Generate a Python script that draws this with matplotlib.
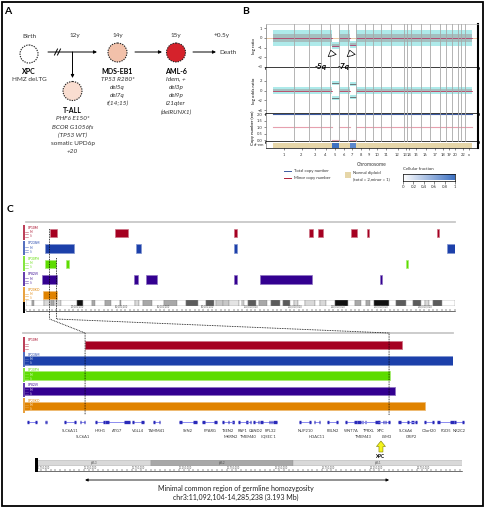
import numpy as np
import matplotlib
matplotlib.use('Agg')
import matplotlib.pyplot as plt
from matplotlib.patches import Rectangle, Circle, Polygon, FancyArrowPatch
from matplotlib.colors import LinearSegmentedColormap, to_rgb
from matplotlib.transforms import blended_transform_factory

plt.rcParams['font.family'] = ['Lato', 'DejaVu Sans']

# ======================= DATA =======================
# ---- Panel A (clinical timeline) ----
timeline_ages = ['Birth', '12y', '14y', '15y', '+0.5y']
xpc_title, xpc_lines = 'XPC', ['HMZ del.TG']
tall_title, tall_lines = 'T-ALL', ['PHF6 E150*', 'BCOR G1056fs', '(TP53 WT)', 'somatic UPD6p', '+20']
mds_title, mds_lines = 'MDS-EB1', ['TP53 R280*', 'del5q', 'del7q', 't(14;15)']
aml_title, aml_lines = 'AML-6', ['Idem, +', 'del3p', 'del9p', 'i21qter', '(delRUNX1)']

# ---- Panel B (copy-number profile) ----
chrom_names = [str(i) for i in range(1, 23)] + ['x']
chrom_width = [21, 15, 12, 9, 9, 9, 8, 9, 8, 8, 10, 13, 3, 4, 10, 9, 10, 6, 6, 6, 3, 4, 7]
del_chrom = ['5', '7']
del_from_frac = [0.2, 0.2]
del_logr = [-0.8, -0.7]
del_logor = [1.5, 1.3]
del_cf = [1.0, 0.85]
normal_logr = 0.0
normal_minor = 1.0
normal_total = 2.0
cf_ticks = [0, 0.2, 0.4, 0.6, 0.8, 1]

# ---- Panel C (runs of homozygosity on chr3, Mb) ----
samples = ['XP10M', 'XP23SM', 'XP30PH', 'XP82VI', 'XP20KO']
sample_colors = ['#a50021', '#1c40aa', '#5ddc00', '#330090', '#e08300']
roh_start = [[11.09, 41.5, 96.0, 130.6, 135.2, 150.0, 157.4, 190.1],
             [8.8, 50.8, 96.0, 194.3],
             [8.8, 18.9, 175.4],
             [7.4, 50.3, 55.4, 96.0, 108.4, 163.4],
             [8.3]]
roh_end = [[14.42, 47.1, 97.8, 132.9, 137.1, 153.2, 158.7, 191.0],
           [22.6, 53.1, 97.8, 198.0],
           [14.29, 20.3, 176.3],
           [14.35, 52.1, 60.9, 97.8, 132.0, 164.7],
           [14.66]]
min_region = (11.092104, 14.285238)
chr3_len = 198.02

band_name = ['p26.3', 'p26.2', 'p26.1', 'p25.3', 'p25.2', 'p25.1', 'p24.3', 'p24.2', 'p24.1', 'p23',
             'p22.3', 'p22.2', 'p22.1', 'p21.33', 'p21.32', 'p21.31', 'p21.2', 'p21.1', 'p14.3', 'p14.2',
             'p14.1', 'p13', 'p12.3', 'p12.2', 'p12.1', 'p11.2', 'p11.1', 'q11.1', 'q11.2', 'q12.1',
             'q12.2', 'q12.3', 'q13.11', 'q13.12', 'q13.13', 'q13.2', 'q13.31', 'q13.32', 'q13.33', 'q21.1',
             'q21.2', 'q21.3', 'q22.1', 'q22.2', 'q22.3', 'q23', 'q24', 'q25.1', 'q25.2', 'q25.31',
             'q25.32', 'q25.33', 'q26.1', 'q26.2', 'q26.31', 'q26.32', 'q26.33', 'q27.1', 'q27.2', 'q27.3',
             'q28', 'q29']
band_start = [0, 2.8, 4.0, 8.7, 11.8, 13.3, 16.4, 23.9, 26.4, 30.9,
              32.1, 36.5, 39.4, 43.7, 44.1, 44.2, 50.6, 52.3, 54.4, 58.6,
              63.7, 69.8, 74.2, 79.8, 83.5, 87.2, 87.9, 91.0, 93.9, 98.3,
              100.0, 100.9, 102.8, 106.2, 107.9, 111.3, 113.5, 117.3, 119.0, 121.9,
              123.8, 125.8, 129.2, 133.7, 135.7, 138.7, 142.8, 148.9, 152.1, 155.0,
              157.0, 159.0, 160.7, 167.6, 170.9, 175.7, 179.0, 182.7, 184.5, 186.0,
              187.9, 192.3]
band_stain = ['gneg', 'gpos50', 'gneg', 'gpos25', 'gpos50', 'gpos25', 'gneg', 'gpos100', 'gneg', 'gpos50',
              'gneg', 'gpos50', 'gneg', 'gpos50', 'gneg', 'gneg', 'gpos25', 'gneg', 'gpos50', 'gneg',
              'gpos50', 'gneg', 'gpos75', 'gneg', 'gpos75', 'gneg', 'acen', 'acen', 'gvar', 'gneg',
              'gpos25', 'gneg', 'gpos75', 'gneg', 'gpos50', 'gneg', 'gpos75', 'gneg', 'gpos75', 'gneg',
              'gpos25', 'gneg', 'gpos25', 'gneg', 'gpos25', 'gneg', 'gpos100', 'gneg', 'gpos50', 'gneg',
              'gpos50', 'gneg', 'gpos100', 'gneg', 'gpos75', 'gneg', 'gpos75', 'gneg', 'gpos25', 'gneg',
              'gpos75', 'gneg']
stain_color = {'gneg': '#ffffff', 'gpos25': '#d9d9d9', 'gpos50': '#a8a8a8', 'gpos75': '#5c5c5c',
               'gpos100': '#111111', 'acen': '#c8c8c8', 'gvar': '#e4e4e4'}

gene_names = ['', '', 'SLC6A11', 'SLC6A1', 'HRH1', 'ATG7', 'VGLL4', 'TAMM41', 'SYN2', 'PPARG',
              'TSEN2', 'MKRN2', 'RAF1', 'TMEM40', 'CAND2', 'IQSEC 1', 'RPL32', 'NUP210', 'HDAC11', 'FBLN2',
              'WNT7A', 'TMEM43', 'TPRXL', 'XPC', 'LSM3', 'SLC6A6', 'GRIP2', 'C3orf20', 'FGD5', 'NR2C2']
gene_start = [10.48, 10.67, 10.87, 11.04, 11.20, 11.30, 11.58, 11.81, 12.08, 12.32,
              12.53, 12.59, 12.70, 12.78, 12.86, 12.93, 13.02, 13.34, 13.50, 13.63,
              13.82, 14.00, 13.95, 14.17, 14.24, 14.38, 14.47, 14.65, 14.79, 14.97]
gene_end = [10.59, 10.69, 11.00, 11.09, 11.30, 11.56, 11.71, 11.88, 12.27, 12.48,
            12.66, 12.66, 12.80, 12.84, 12.92, 13.11, 13.06, 13.47, 13.56, 13.75,
            13.95, 14.04, 14.19, 14.23, 14.29, 14.55, 14.58, 14.76, 14.97, 15.07]
gene_row = [0, 0, 0, 1, 0, 0, 0, 0, 0, 0,
            0, 1, 0, 1, 0, 1, 0, 0, 1, 0,
            0, 1, 0, 0, 1, 0, 1, 0, 0, 0]
xpc_gene = 'XPC'

# ======================= FIGURE =======================
W, H = 486, 508
fig = plt.figure(figsize=(W / 100, H / 100), dpi=100)


def pxax(x0, y0, x1, y1):
    return fig.add_axes([x0 / W, 1 - y1 / H, (x1 - x0) / W, (y1 - y0) / H])


ov = fig.add_axes([0, 0, 1, 1])
ov.set_xlim(0, W)
ov.set_ylim(H, 0)
ov.axis('off')
ov.patch.set_alpha(0)
ov.set_zorder(10)


def to_px(ax, x, y):
    d = ax.transData.transform((x, y))
    return ov.transData.inverted().transform(d)


# outer frame
ov.add_patch(Rectangle((1.5, 1.5), 481, 504.5, fill=False, lw=1.3, ec='black'))

# ---------------- Panel A ----------------
ov.text(8, 12, 'A', fontsize=7.5, fontweight='bold', va='center', ha='center')
age_x = [29, 75, 117.5, 176, 222]
for ax_, lab in zip(age_x, timeline_ages):
    ov.text(ax_, 36, lab, fontsize=4.6, ha='center', va='center', color='#333333')

dot = (0, (1.2, 1.0))
circles = [(29, 54, 9, 'white'), (72.5, 91, 9.5, '#f9ddd0'),
           (117.5, 52.5, 9.5, '#f2c1aa'), (176, 52.5, 9.5, '#d5222b')]
for cx, cy, r, fc in circles:
    ov.add_patch(Circle((cx, cy), r, fc=fc, ec='#222222', lw=0.8, ls=dot))

arr = dict(arrowstyle='-|>', lw=0.7, color='black', mutation_scale=4.5, shrinkA=0, shrinkB=0)
ov.annotate('', xy=(97, 52), xytext=(48, 52), arrowprops=arr)
ov.annotate('', xy=(72.5, 78), xytext=(72.5, 52), arrowprops=arr)
ov.annotate('', xy=(162, 52), xytext=(135, 52), arrowprops=arr)
ov.annotate('', xy=(216, 52), xytext=(193, 52), arrowprops=arr)
ov.plot([54.5, 57.5], [55, 49], color='black', lw=0.7)
ov.plot([57.5, 60.5], [55, 49], color='black', lw=0.7)
ov.text(219, 52.5, 'Death', fontsize=4.6, ha='left', va='center', color='#333333')


def block(x, y, title, lines):
    ov.text(x, y, title, fontsize=5, fontweight='bold', ha='center', va='center')
    for k, ln in enumerate(lines):
        ov.text(x, y + 8.2 * (k + 1), ln, fontsize=4.6, ha='center', va='center',
                style='normal' if ln.startswith('HMZ') or ln.startswith('somatic') else 'italic',
                color='#333333')


block(29, 71, xpc_title, xpc_lines)
block(117.5, 71, mds_title, mds_lines)
block(176, 71, aml_title, aml_lines)
block(72.5, 110.5, tall_title, tall_lines)

# ---------------- Panel B ----------------
ov.text(246, 12, 'B', fontsize=7.5, fontweight='bold', va='center', ha='center')
starts = np.concatenate([[0], np.cumsum(chrom_width)[:-1]])
ends = np.cumsum(chrom_width)
centers = (starts + ends) / 2

segs = []  # (start, end, logr, logor, minor, cf, is_del)
for name, s, e in zip(chrom_names, starts, ends):
    if name in del_chrom:
        k = del_chrom.index(name)
        b = s + del_from_frac[k] * (e - s)
        segs.append((s, b, normal_logr, 0.0, normal_minor, 0.0, False))
        segs.append((b, e, del_logr[k], del_logor[k], 0.0, del_cf[k], True))
    else:
        segs.append((s, e, normal_logr, 0.0, normal_minor, 0.0, False))

XL = (-7, 205)
ax1 = pxax(266, 24, 478, 68.3)
ax2 = pxax(266, 68.3, 478, 113.7)
ax3 = pxax(266, 113.7, 478, 142)
ax4 = pxax(266, 142, 478, 148.5)
cyan = '#aeeaea'
gray = '#9c9c9c'
for ax in (ax1, ax2, ax3, ax4):
    ax.set_xlim(*XL)
    ax.tick_params(axis='y', labelsize=3, length=1.5, width=0.4, pad=1, colors='#333333')
    ax.set_xticks([])
    ax.spines['left'].set_linewidth(0.5)
    ax.spines['left'].set_color('#777777')
    ax.spines['top'].set_color('#bbbbbb')
    ax.spines['top'].set_linewidth(0.5)
    ax.spines['bottom'].set_linewidth(1.8)
    ax.spines['right'].set_linewidth(1.5)
ax2.spines['top'].set_visible(False)
ax3.spines['top'].set_visible(False)
ax4.spines['top'].set_visible(False)
ax4.spines['bottom'].set_linewidth(0.5)

# track 1: log ratio
for s, e, lr, lo, mi, cf, isd in segs:
    if isd:
        ax1.fill_between([s, e], lr - 0.4, lr + 0.4, color=cyan, lw=0)
        ax1.fill_between([s, e], lr - 0.15, lr + 0.15, color=gray, alpha=0.6, lw=0)
    else:
        ax1.fill_between([s, e], lr - 0.8, lr + 0.8, color=cyan, lw=0)
        ax1.fill_between([s, e], lr - 0.4, lr + 0.4, color=gray, alpha=0.55, lw=0)
    ax1.plot([s, e], [lr, lr], color='#b04070', lw=0.6)
ax1.axhline(0, color='#d8a060', lw=0.4, zorder=1)
ax1.set_ylim(-3.15, 1.43)
ax1.set_yticks([1, 0, -1, -2, -3])
ax1.set_ylabel('log ratio', fontsize=3.2, labelpad=1)

# track 2: log odds ratio
for s, e, lr, lo, mi, cf, isd in segs:
    if isd:
        for sg in (1, -1):
            ax2.fill_between([s, e], sg * lo - 0.4, sg * lo + 0.4, color=cyan, lw=0)
            ax2.plot([s, e], [sg * lo, sg * lo], color='#666666', lw=0.6)
    else:
        ax2.fill_between([s, e], -0.7, 0.7, color=cyan, lw=0)
        ax2.fill_between([s, e], -0.25, 0.25, color=gray, alpha=0.5, lw=0)
        ax2.plot([s, e], [0, 0], color='#c04060', lw=0.6)
ax2.set_ylim(-4.66, 4.48)
ax2.set_yticks([2, 0, -2, -4])
ax2.set_ylabel('log odds ratio', fontsize=3.2, labelpad=1)

# track 3: copy number
for s, e, lr, lo, mi, cf, isd in segs:
    ax3.plot([s, e], [mi, mi], color='#e6a0ae', lw=0.8)
    ax3.plot([s, e], [normal_total, normal_total], color='#3c5aa0', lw=0.8)
ax3.set_ylim(-0.15, 2.03)
ax3.set_yticks([0.0, 0.5, 1.0, 1.5, 2.0])
ax3.set_yticklabels(['0.0', '0.5', '1.0', '1.5', '2.0'])
ax3.set_ylabel('Copy number (em)', fontsize=3.2, labelpad=1)

for ax in (ax1, ax2, ax3):
    for b in ends[:-1]:
        ax.axvline(b, color='#a8a8a8', lw=0.6, zorder=3)

# track 4: cellular fraction
cf_cmap = LinearSegmentedColormap.from_list('cf', ['#ffffff', '#3d71c2'])
ax4.set_ylim(0, 1)
ax4.set_yticks([])
for s, e, lr, lo, mi, cf, isd in segs:
    col = cf_cmap(cf) if isd else '#e6d6a8'
    ax4.add_patch(Rectangle((s, 0.12), e - s, 0.76, fc=col, lw=0))
ax4.set_xticks([c for c, n in zip(centers, chrom_names) if n != '21'])
ax4.set_xticklabels([n for n in chrom_names if n != '21'])
ax4.tick_params(axis='x', labelsize=2.9, length=1.5, width=0.4, pad=2, colors='#333333')
ax4.set_xlabel('Chromosome', fontsize=3.6, labelpad=3, color='#333333')
ov.text(264, 145, 'cf-em', fontsize=3, ha='right', va='center', color='#333333')

# annotations -5q / -7q
for xa, xt, lab in ((331, 321, '-5q'), (350, 344, '-7q')):
    ov.add_patch(FancyArrowPatch((xa + 2, 58.5), (xa - 1, 47.5),
                                 arrowstyle='simple,head_length=4,head_width=6,tail_width=2.5',
                                 fc='white', ec='black', lw=0.5))
    ov.text(xt, 66, lab, fontsize=6, fontweight='bold', style='italic', ha='center', va='center')

# legend
ov.plot([284, 291], [171, 171], color='#3c5aa0', lw=0.7)
ov.text(294, 171, 'Total copy number', fontsize=3.1, va='center', color='#333333')
ov.plot([284, 291], [177.5, 177.5], color='#b02038', lw=0.7)
ov.text(294, 177.5, 'Minor copy number', fontsize=3.1, va='center', color='#333333')
ov.add_patch(Rectangle((345, 172), 5.5, 5.5, fc='#e6d6a8', lw=0))
ov.text(353, 173, 'Normal diploid', fontsize=3.1, va='center', color='#333333')
ov.text(353, 179, '(total = 2,minor = 1)', fontsize=3.1, va='center', color='#333333')
ov.text(403, 169.5, 'Cellular fraction', fontsize=3.2, va='center', color='#333333')
cb = pxax(403, 173.5, 455, 180.5)
cb.imshow(np.linspace(0, 1, 256)[None, :], cmap=cf_cmap, aspect='auto', extent=(0, 1, 0, 1))
cb.set_xticks(cf_ticks)
cb.set_xticklabels([f'{t:g}' for t in cf_ticks])
cb.set_yticks([])
cb.tick_params(axis='x', labelsize=3.1, length=1.8, width=0.4, pad=1.5, colors='#333333')
for sp in cb.spines.values():
    sp.set_linewidth(0.5)

# ---------------- Panel C ----------------
ov.text(10, 209, 'C', fontsize=7.5, fontweight='bold', va='center', ha='center')


def lighten(c, f=0.5):
    r = np.array(to_rgb(c))
    return tuple(r + (1 - r) * f)


# top: whole chr3
axC1 = pxax(25.5, 222, 454.6, 300)
axC1.set_xlim(0, chr3_len)
axC1.set_ylim(5.03, 0)
axC1.set_xticks([])
axC1.set_yticks([])
for sp in ('left', 'right', 'bottom'):
    axC1.spines[sp].set_visible(False)
axC1.spines['top'].set_color('#c8c8c8')
axC1.spines['top'].set_linewidth(1.3)
for i, (col, ss, ee) in enumerate(zip(sample_colors, roh_start, roh_end)):
    for s, e in zip(ss, ee):
        axC1.add_patch(Rectangle((s, i + 0.71 - 0.28), e - s, 0.56, fc=col,
                                 ec=lighten(col, 0.45), lw=0.5))

axI1 = pxax(25.5, 300, 454.6, 305.5)
axI1.set_xlim(0, chr3_len)
axI1.set_ylim(0, 1)
axI1.axis('off')
bnd_end = band_start[1:] + [chr3_len]
for s, e, st in zip(band_start, bnd_end, band_stain):
    axI1.add_patch(Rectangle((s, 0), e - s, 1, fc=stain_color[st], ec='#8a8a8a', lw=0.3))

axS1 = pxax(25.5, 305.5, 454.6, 310.5)
axS1.set_xlim(0, chr3_len)
axS1.set_ylim(0, 1)
axS1.set_yticks([])
for sp in ('left', 'right', 'top'):
    axS1.spines[sp].set_visible(False)
axS1.spines['bottom'].set_linewidth(0.4)
axS1.set_xticks(np.arange(20, 199, 20))
axS1.set_xticks(np.arange(0, 199, 2), minor=True)
axS1.set_xticklabels([])
axS1.tick_params(axis='x', which='both', direction='in', length=1.5, width=0.3)
for m in np.arange(20, 199, 20):
    axS1.text(m + 0.8, 0.72, f'{int(m * 1e6):,}', fontsize=1.8, va='center', color='#555555')

ov.add_patch(Rectangle((22.5, 299), 2.8, 14, fc='black', lw=0))

# bottom: zoomed region
axC2 = pxax(23, 333, 453, 412)
axC2.set_xlim(10.44, 10.44 + 430 / 95.2)
axC2.set_ylim(5.18, 0)
axC2.set_xticks([])
axC2.set_yticks([])
for sp in ('left', 'right', 'bottom'):
    axC2.spines[sp].set_visible(False)
axC2.spines['top'].set_color('#c8c8c8')
axC2.spines['top'].set_linewidth(1.3)
for i, (col, ss, ee) in enumerate(zip(sample_colors, roh_start, roh_end)):
    for s, e in zip(ss, ee):
        axC2.add_patch(Rectangle((s, i + 0.79 - 0.28), e - s, 0.56, fc=col,
                                 ec=lighten(col, 0.45), lw=0.6))

# left sample labels
for i, (name, col) in enumerate(zip(samples, sample_colors)):
    for ax, y0 in ((axC1, 0.71), (axC2, 0.79)):
        _, yc = to_px(ax, ax.get_xlim()[0], i + y0)
        x_l = 22.5
        ov.add_patch(Rectangle((x_l, yc - 8), 2.6, 14.5, fc=lighten(col, 0.25), lw=0))
        for dy in (-1.5, 1, 3.5):
            ov.plot([x_l + 2.8, x_l + 5], [yc + dy, yc + dy], color=lighten(col, 0.3), lw=0.4)
        ov.text(x_l + 5, yc - 5.5, name, fontsize=2.3, color=col, va='center')
        tc = col if ax is axC1 else 'white'
        ov.text(x_l + 7.5, yc - 1, 'Sel', fontsize=1.9, color=tc, va='center')
        ov.text(x_l + 7.5, yc + 3, 'Ii', fontsize=1.9, color=tc, va='center')

# gene track
axG = pxax(23, 417, 470, 427)
axG.set_xlim(10.44, 10.44 + 447 / 95.2)
axG.set_ylim(0, 1)
axG.axis('off')
for nm, s, e, r in zip(gene_names, gene_start, gene_end, gene_row):
    axG.plot([s, e], [0.5, 0.5], color='#8c8cf0', lw=0.7, solid_capstyle='butt')
    L = e - s
    axG.plot([s, s + max(0.012, 0.18 * L)], [0.5, 0.5], color='#2a2ab8', lw=2.4, solid_capstyle='butt')
    axG.plot([e - max(0.012, 0.22 * L), e], [0.5, 0.5], color='#2a2ab8', lw=2.4, solid_capstyle='butt')
    if nm:
        axG.text((s + e) / 2, -0.4 if r == 0 else -1.0, nm, fontsize=2.9, ha='center', va='center',
                 color='#333333', clip_on=False)

# XPC arrow
k = gene_names.index(xpc_gene)
xg, _ = to_px(axG, (gene_start[k] + gene_end[k]) / 2, 0)
ov.add_patch(Polygon([(xg - 2, 452), (xg + 2, 452), (xg + 2, 446.5), (xg + 4.5, 446.5),
                      (xg, 441), (xg - 4.5, 446.5), (xg - 2, 446.5)],
                     closed=True, fc='#f4f41c', ec='#7a7a00', lw=0.4))
ov.text(xg, 456.5, 'XPC', fontsize=3.4, fontweight='bold', ha='center', va='center')

# bottom ideogram
axI2 = pxax(37, 460, 462, 465.5)
axI2.set_xlim(11.09 + (37 - 83) / 95.2, 11.09 + (462 - 83) / 95.2)
axI2.set_ylim(0, 1)
axI2.axis('off')
lo_, hi_ = axI2.get_xlim()
for nm, s, e, st in zip(band_name, band_start, bnd_end, band_stain):
    if e < lo_ or s > hi_:
        continue
    axI2.add_patch(Rectangle((s, 0), e - s, 1, fc=stain_color[st], ec='#9a9a9a', lw=0.3))
    axI2.text((max(s, lo_) + min(e, hi_)) / 2, 0.5, nm, fontsize=1.9, ha='center', va='center',
              color='#444444')
axS2 = pxax(37, 465.5, 462, 471)
axS2.set_xlim(lo_, hi_)
axS2.set_ylim(0, 1)
axS2.set_yticks([])
for sp in ('left', 'right', 'top'):
    axS2.spines[sp].set_visible(False)
axS2.spines['bottom'].set_linewidth(0.4)
maj = np.arange(10.75, 15.1, 0.5)
axS2.set_xticks(maj)
axS2.set_xticks(np.arange(10.65, 15.1, 0.05), minor=True)
axS2.set_xticklabels([])
axS2.tick_params(axis='x', which='both', direction='in', length=1.5, width=0.3)
for m in maj:
    axS2.text(m - 0.15, 0.72, f'{int(round(m * 1e6)):,}', fontsize=1.8, va='center', color='#555555')
ov.add_patch(Rectangle((35, 458), 3, 13.5, fc='black', lw=0))

# dotted connectors
dls = dict(color='black', lw=0.6, ls=(0, (1, 1)))
for pos, ytop in zip(min_region, (229, 258)):
    xt, _ = to_px(axC1, pos, 0)
    xb, _ = to_px(axC2, pos, 0)
    ov.plot([xt, xt, xb, xb], [ytop, 319, 333, 415], **dls)

# double arrow and caption
tr = blended_transform_factory(axC2.transData, ov.transData)
ov.annotate('', xy=(min_region[1], 480), xytext=(min_region[0], 480), xycoords=tr, textcoords=tr,
            arrowprops=dict(arrowstyle='<|-|>', lw=0.6, color='black', mutation_scale=4,
                            shrinkA=0, shrinkB=0))
ov.text(236, 488.5, 'Minimal common region of germline homozygosity', fontsize=5, ha='center',
        va='center', color='#222222')
ov.text(236, 497, 'chr3:11,092,104-14,285,238 (3.193 Mb)', fontsize=5, ha='center', va='center',
        color='#222222')

fig.savefig('out.png', dpi=100)
